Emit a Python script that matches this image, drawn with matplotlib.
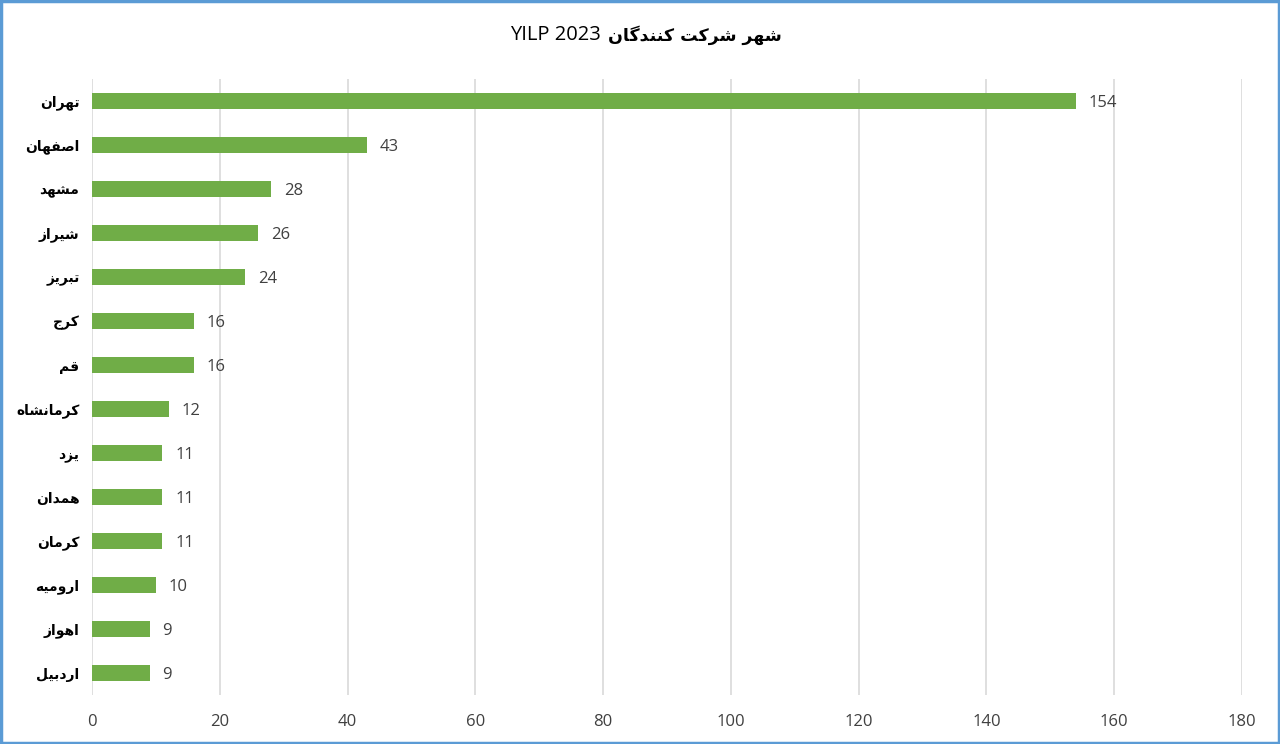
import matplotlib
matplotlib.use("Agg")
import matplotlib.pyplot as plt

cities = ["تهران", "اصفهان", "مشهد", "شیراز", "تبریز", "کرج", "قم",
          "کرمانشاه", "یزد", "همدان", "کرمان", "ارومیه", "اهواز", "اردبیل"]
counts = [154, 43, 28, 26, 24, 16, 16, 12, 11, 11, 11, 10, 9, 9]
title_fa = "شهر شرکت کنندگان"
title_en = "YILP 2023"
xticks = [0, 20, 40, 60, 80, 100, 120, 140, 160, 180]

# matplotlib has no arabic shaping, so pick presentation forms by hand
# letter: (isolated, final, initial, medial); two entries = joins only to the right
FORMS = {
    "ا": ("\uFE8D", "\uFE8E"),
    "ب": ("\uFE8F", "\uFE90", "\uFE91", "\uFE92"),
    "ت": ("\uFE95", "\uFE96", "\uFE97", "\uFE98"),
    "ج": ("\uFE9D", "\uFE9E", "\uFE9F", "\uFEA0"),
    "د": ("\uFEA9", "\uFEAA"),
    "ر": ("\uFEAD", "\uFEAE"),
    "ز": ("\uFEAF", "\uFEB0"),
    "ش": ("\uFEB5", "\uFEB6", "\uFEB7", "\uFEB8"),
    "ص": ("\uFEB9", "\uFEBA", "\uFEBB", "\uFEBC"),
    "ف": ("\uFED1", "\uFED2", "\uFED3", "\uFED4"),
    "ق": ("\uFED5", "\uFED6", "\uFED7", "\uFED8"),
    "ل": ("\uFEDD", "\uFEDE", "\uFEDF", "\uFEE0"),
    "م": ("\uFEE1", "\uFEE2", "\uFEE3", "\uFEE4"),
    "ن": ("\uFEE5", "\uFEE6", "\uFEE7", "\uFEE8"),
    "ه": ("\uFEE9", "\uFEEA", "\uFEEB", "\uFEEC"),
    "و": ("\uFEED", "\uFEEE"),
    "ی": ("\uFBFC", "\uFBFD", "\uFBFE", "\uFBFF"),
    "ک": ("\uFB8E", "\uFB8F", "\uFB90", "\uFB91"),
    "گ": ("\uFB92", "\uFB93", "\uFB94", "\uFB95"),
}


def shape(text):
    out = []
    for i, ch in enumerate(text):
        if ch not in FORMS:
            out.append(ch)
            continue
        prev = text[i - 1] if i > 0 else ""
        nxt = text[i + 1] if i + 1 < len(text) else ""
        join_prev = prev in FORMS and len(FORMS[prev]) == 4
        join_next = nxt in FORMS and len(FORMS[ch]) == 4
        f = FORMS[ch]
        if join_prev and join_next:
            out.append(f[3])
        elif join_prev:
            out.append(f[1])
        elif join_next:
            out.append(f[2])
        else:
            out.append(f[0])
    return "".join(out)[::-1]


fam = ["Open Sans", "DejaVu Sans"]
fig = plt.figure(figsize=(12.8, 7.44), dpi=100)
ax = fig.add_axes([92 / 1280, 1 - 695 / 744, 1150 / 1280, 616 / 744])

ypos = list(range(len(cities)))
ax.barh(ypos, counts, height=0.36, color="#70AD47", zorder=3)
for y, v in zip(ypos, counts):
    ax.text(v + 2, y + 0.05, str(v), va="center", ha="left", fontsize=12,
            color="#404040", family=fam)

ax.set_xlim(0, 180)
ax.set_ylim(len(cities) - 0.5, -0.5)
ax.set_xticks(xticks)
ax.set_xticklabels([str(t) for t in xticks], fontsize=12, color="#404040", family=fam)
ax.set_yticks(ypos)
ax.set_yticklabels([shape(c) for c in cities], fontsize=10, fontweight="bold",
                   family=["DejaVu Sans"], color="#000000")
ax.tick_params(axis="both", length=0)
ax.tick_params(axis="y", pad=9)
ax.tick_params(axis="x", pad=14)
ax.grid(axis="x", color="#D9D9D9", linewidth=1.2, zorder=0)
for s in ax.spines.values():
    s.set_visible(False)

fig.text(601 / 1280, 1 - 35 / 744, title_en, ha="right", va="center",
         fontsize=14.5, color="#000000", family=fam)
fig.text(608 / 1280, 1 - 35 / 744, shape(title_fa), ha="left", va="center",
         fontsize=12.5, fontweight="bold", family=["DejaVu Sans"], color="#000000")

border = plt.Rectangle((0.001, 0.002), 0.998, 0.996, transform=fig.transFigure,
                       fill=False, edgecolor="#5B9BD5", linewidth=2.5)
fig.patches.append(border)

fig.savefig("out.png", dpi=100)
